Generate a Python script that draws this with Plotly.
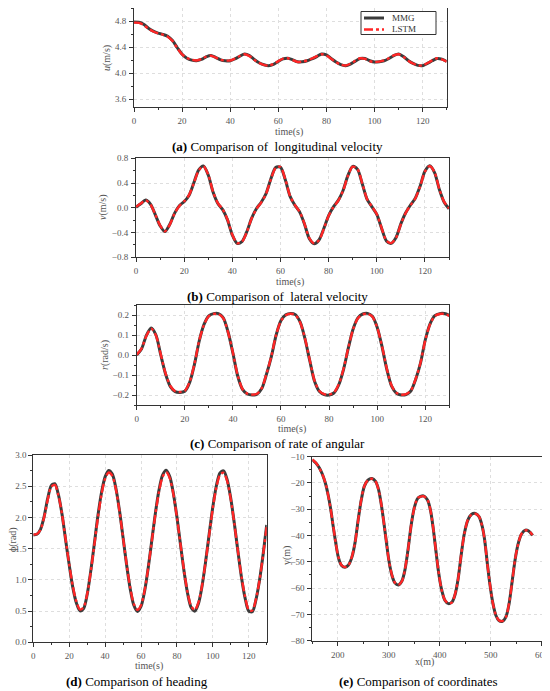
import plotly.graph_objects as go

MMG_COLOR = "#3c3c3c"
LSTM_COLOR = "#ff2626"
TICK_FONT = dict(family="Liberation Serif", size=9, color="#555555")
TITLE_FONT = dict(family="Liberation Serif", size=10, color="#555555")
CAPTION_FONT = dict(family="Liberation Serif", size=13, color="#000000")
PAGE_OFFSET = 8  # the html page puts the figure 8px in from the top-left corner
W, H = 550 - PAGE_OFFSET, 691 - PAGE_OFFSET

# time axis shared by panels (a)-(d), seconds
TIME = list(range(0, 131, 2))

# (a) longitudinal velocity u (m/s)
U_MMG = [4.785, 4.78, 4.75, 4.69, 4.645, 4.615, 4.595, 4.565, 4.50, 4.39,
         4.29, 4.23, 4.20, 4.19, 4.21, 4.25, 4.27, 4.24, 4.205, 4.19,
         4.19, 4.22, 4.26, 4.295, 4.27, 4.21, 4.16, 4.13, 4.115, 4.135,
         4.18, 4.22, 4.23, 4.205, 4.175, 4.175, 4.19, 4.22, 4.255, 4.295,
         4.28, 4.225, 4.17, 4.13, 4.115, 4.14, 4.185, 4.225, 4.225, 4.19,
         4.17, 4.175, 4.19, 4.225, 4.27, 4.295, 4.255, 4.195, 4.15, 4.12,
         4.115, 4.15, 4.19, 4.225, 4.215, 4.18]
U_LSTM = [4.775, 4.772, 4.74, 4.682, 4.64, 4.612, 4.59, 4.56, 4.496, 4.385,
          4.288, 4.232, 4.205, 4.195, 4.215, 4.252, 4.268, 4.238, 4.205, 4.193,
          4.195, 4.225, 4.263, 4.29, 4.262, 4.205, 4.158, 4.128, 4.118, 4.14,
          4.185, 4.223, 4.228, 4.2, 4.172, 4.178, 4.195, 4.225, 4.26, 4.29,
          4.272, 4.22, 4.168, 4.13, 4.118, 4.145, 4.19, 4.228, 4.22, 4.186,
          4.17, 4.178, 4.195, 4.23, 4.272, 4.29, 4.25, 4.192, 4.148, 4.122,
          4.118, 4.155, 4.195, 4.228, 4.21, 4.178]

# (b) lateral velocity v (m/s)
V_MMG = [0.01, 0.065, 0.125, 0.06, -0.11, -0.29, -0.385, -0.27, -0.09, 0.035,
         0.10, 0.20, 0.40, 0.61, 0.675, 0.53, 0.255, 0.07, -0.03, -0.195,
         -0.44, -0.575, -0.545, -0.39, -0.17, -0.015, 0.09, 0.23, 0.465, 0.65,
         0.655, 0.455, 0.185, 0.04, -0.07, -0.265, -0.50, -0.58, -0.52, -0.335,
         -0.125, 0.015, 0.12, 0.28, 0.52, 0.67, 0.62, 0.385, 0.135, 0.015,
         -0.107, -0.33, -0.535, -0.575, -0.48, -0.26, -0.08, 0.045, 0.155, 0.35,
         0.59, 0.68, 0.57, 0.295, 0.09, -0.015]
V_LSTM = [0.015, 0.07, 0.12, 0.055, -0.105, -0.285, -0.38, -0.275, -0.095, 0.03,
          0.105, 0.205, 0.395, 0.60, 0.67, 0.535, 0.26, 0.075, -0.025, -0.19,
          -0.435, -0.57, -0.55, -0.395, -0.175, -0.02, 0.085, 0.225, 0.46, 0.645,
          0.66, 0.46, 0.19, 0.045, -0.065, -0.26, -0.49, -0.575, -0.525, -0.34,
          -0.13, 0.01, 0.115, 0.275, 0.515, 0.665, 0.625, 0.39, 0.14, 0.02,
          -0.10, -0.325, -0.53, -0.57, -0.485, -0.265, -0.085, 0.04, 0.15, 0.345,
          0.585, 0.675, 0.575, 0.30, 0.095, -0.01]

# (c) yaw rate r (rad/s)
R_MMG = [0.0, 0.03, 0.097, 0.135, 0.10, 0.0, -0.095, -0.158, -0.183, -0.187,
         -0.181, -0.138, -0.048, 0.07, 0.153, 0.196, 0.207, 0.207, 0.186, 0.115,
         0.01, -0.105, -0.172, -0.195, -0.2, -0.196, -0.168, -0.095, -0.008, 0.10,
         0.172, 0.201, 0.208, 0.202, 0.164, 0.08, -0.03, -0.133, -0.183, -0.198,
         -0.2, -0.19, -0.15, -0.073, 0.034, 0.13, 0.186, 0.205, 0.208, 0.194,
         0.139, 0.043, -0.071, -0.156, -0.191, -0.2, -0.198, -0.18, -0.122, -0.042,
         0.075, 0.156, 0.197, 0.207, 0.207, 0.198]
R_LSTM = [0.002, 0.032, 0.095, 0.132, 0.098, 0.003, -0.092, -0.155, -0.181, -0.185,
          -0.179, -0.135, -0.046, 0.072, 0.151, 0.194, 0.205, 0.205, 0.184, 0.113,
          0.012, -0.102, -0.17, -0.193, -0.198, -0.194, -0.166, -0.093, -0.006, 0.102,
          0.17, 0.199, 0.206, 0.2, 0.162, 0.082, -0.027, -0.13, -0.18, -0.196,
          -0.198, -0.188, -0.148, -0.07, 0.036, 0.128, 0.184, 0.203, 0.206, 0.192,
          0.137, 0.045, -0.068, -0.153, -0.189, -0.198, -0.196, -0.178, -0.12, -0.04,
          0.073, 0.154, 0.195, 0.205, 0.205, 0.196]

# (d) heading (rad)
PSI_MMG = [1.72, 1.73, 1.81, 2.01, 2.30, 2.51, 2.54, 2.36, 2.05, 1.64,
           1.24, 0.88, 0.63, 0.503, 0.54, 0.765, 1.14, 1.58, 2.03, 2.40,
           2.65, 2.752, 2.694, 2.468, 2.110, 1.676, 1.233, 0.852, 0.593, 0.495,
           0.575, 0.820, 1.191, 1.631, 2.069, 2.438, 2.679, 2.755, 2.653, 2.389,
           2.006, 1.563, 1.130, 0.774, 0.552, 0.499, 0.622, 0.903, 1.297, 1.743,
           2.170, 2.512, 2.714, 2.745, 2.601, 2.303, 1.898, 1.451, 1.031, 0.704,
           0.50, 0.49, 0.679, 0.993, 1.407, 1.88]
PSI_LSTM = [1.725, 1.735, 1.80, 2.00, 2.28, 2.49, 2.52, 2.35, 2.05, 1.65,
            1.25, 0.90, 0.65, 0.525, 0.56, 0.77, 1.13, 1.56, 2.00, 2.37,
            2.62, 2.72, 2.665, 2.45, 2.10, 1.675, 1.245, 0.87, 0.615, 0.52,
            0.595, 0.83, 1.19, 1.62, 2.05, 2.41, 2.65, 2.725, 2.63, 2.375,
            2.0, 1.565, 1.14, 0.79, 0.575, 0.52, 0.64, 0.91, 1.295, 1.73,
            2.15, 2.485, 2.685, 2.715, 2.58, 2.29, 1.895, 1.455, 1.045, 0.725,
            0.52, 0.51, 0.69, 0.995, 1.40, 1.86]

# (e) trajectory x (m) / y (m)
POS_X = [150, 157, 164, 170, 176, 181, 186, 191, 196, 201,
         207, 214, 221, 228, 234, 240, 246, 252, 259, 267,
         274, 280, 285, 290, 295, 300, 306, 312, 319, 326,
         332, 338, 344, 350, 357, 368, 376, 382, 387, 392,
         397, 403, 410, 417, 424, 430, 436, 442, 448, 455,
         462, 470, 477, 483, 488, 493, 498, 504, 510, 516,
         523, 530, 536, 542, 548, 554, 560, 567, 574, 580, 582]
POS_Y_MMG = [-11.2, -12.4, -14.3, -16.8, -20.3, -24.5, -29.8, -36.5, -42.8, -48.2,
             -51.3, -52.1, -51.2, -48.0, -42.5, -34.0, -26.5, -21.3, -18.9, -18.3,
             -19.4, -22.5, -27.8, -34.5, -42.0, -49.2, -55.0, -58.0, -58.8, -57.2,
             -52.8, -45.0, -36.0, -29.5, -25.8, -24.9, -26.5, -30.5, -37.0, -45.0,
             -53.0, -60.0, -64.6, -65.9, -65.3, -62.5, -56.5, -47.5, -39.5, -34.2,
             -32.0, -31.6, -32.8, -36.2, -41.5, -50.0, -58.0, -65.5, -70.3, -72.3,
             -72.6, -70.8, -66.0, -57.5, -49.0, -43.0, -39.6, -38.0, -38.2, -39.4, -40.0]
POS_Y_LSTM = [-11.0, -12.3, -14.4, -16.9, -20.1, -24.6, -29.9, -36.3, -42.9, -48.0,
              -51.2, -52.0, -51.3, -47.8, -42.6, -34.2, -26.4, -21.2, -18.9, -18.4,
              -19.3, -22.6, -27.7, -34.6, -41.8, -49.3, -54.9, -57.9, -58.7, -57.3,
              -52.6, -45.2, -35.9, -29.6, -25.7, -25.0, -26.4, -30.6, -36.8, -45.1,
              -52.8, -60.1, -64.5, -65.8, -65.4, -62.3, -56.6, -47.3, -39.6, -34.1,
              -32.1, -31.7, -32.7, -36.3, -41.4, -50.1, -57.8, -65.6, -70.2, -72.2,
              -72.5, -70.9, -65.8, -57.6, -48.8, -43.1, -39.5, -38.1, -38.1, -39.3, -39.8]


def paper(px, py):
    """Pixel position as seen in the page -> paper coordinates."""
    fx = (px - PAGE_OFFSET) / W
    fy = 1 - (py - PAGE_OFFSET) / H
    return min(max(fx, 0), 1), min(max(fy, 0), 1)


def dom_x(a, b):
    return [paper(a, 8)[0], paper(b, 8)[0]]


def dom_y(top, bottom):
    return [paper(8, bottom)[1], paper(8, top)[1]]


def axis_style(rng, dtick, minor_dtick, domain, anchor, **extra):
    d = dict(
        range=rng,
        dtick=dtick,
        domain=domain,
        anchor=anchor,
        automargin=False,
        showline=True,
        linecolor="#333333",
        linewidth=1,
        mirror=True,
        ticks="outside",
        ticklen=4,
        tickcolor="#333333",
        minor=dict(dtick=minor_dtick, ticks="outside", ticklen=2, tickcolor="#333333", showgrid=False),
        showgrid=True,
        gridcolor="#dedede",
        griddash="dot",
        gridwidth=1,
        zeroline=False,
        tickfont=TICK_FONT,
    )
    d.update(extra)
    return d


fig = go.Figure()

panels = [
    ("x", "y", TIME, U_MMG, U_LSTM),
    ("x2", "y2", TIME, V_MMG, V_LSTM),
    ("x3", "y3", TIME, R_MMG, R_LSTM),
    ("x4", "y4", TIME, PSI_MMG, PSI_LSTM),
    ("x5", "y5", POS_X, POS_Y_MMG, POS_Y_LSTM),
]
for xa, ya, xs, mmg, lstm in panels:
    fig.add_trace(go.Scatter(
        x=xs, y=mmg, xaxis=xa, yaxis=ya, mode="lines", name="MMG",
        line=dict(color=MMG_COLOR, width=3, shape="spline", smoothing=0.8),
        showlegend=False,
    ))
    fig.add_trace(go.Scatter(
        x=xs, y=lstm, xaxis=xa, yaxis=ya, mode="lines", name="LSTM",
        line=dict(color=LSTM_COLOR, width=2.4, dash="dashdot", shape="spline", smoothing=0.8),
        showlegend=False,
    ))

fig.update_layout(
    width=W,
    height=H,
    margin=dict(l=0, r=0, t=0, b=0, autoexpand=False),
    paper_bgcolor="white",
    plot_bgcolor="white",
    showlegend=False,
    xaxis=axis_style([0, 130], 20, 10, dom_x(134, 446.7), "y", ticklabelstandoff=1),
    yaxis=axis_style([3.476, 5.0], 0.4, 0.2, dom_y(8, 107.3), "x", tickformat=".1f", ticklabelstandoff=1),
    xaxis2=axis_style([0, 130], 20, 10, dom_x(136, 449), "y2", ticklabelstandoff=1),
    yaxis2=axis_style([-0.8, 0.8], 0.4, 0.2, dom_y(158.3, 257.3), "x2", tickformat=".1f", ticklabelstandoff=1),
    xaxis3=axis_style([0, 130], 20, 10, dom_x(136.7, 449.3), "y3", ticklabelstandoff=1),
    yaxis3=axis_style([-0.25, 0.25], 0.1, 0.05, dom_y(305, 405), "x3", tickformat=".1f", ticklabelstandoff=1),
    xaxis4=axis_style([0, 130], 20, 10, dom_x(33.3, 266.7), "y4", ticklabelstandoff=1),
    yaxis4=axis_style([0, 3], 0.5, 0.25, dom_y(455, 642.3), "x4", tickformat=".1f", ticklabelstandoff=0),
    xaxis5=axis_style([150, 600], 100, 50, dom_x(312.3, 541.7), "y5", tick0=0, ticklabelstandoff=1),
    yaxis5=axis_style([-80, -10], 10, 5, dom_y(456.7, 640.7), "x5", ticklabelstandoff=1),
)

# axis titles placed where the reference shows them
axis_titles = [
    ("time(s)", 289, 132, 0), ("<i>u</i>(m/s)", 107, 58, -90),
    ("time(s)", 290, 282, 0), ("<i>v</i>(m/s)", 103, 207, -90),
    ("time(s)", 292, 429, 0), ("<i>r</i>(rad/s)", 105, 355, -90),
    ("time(s)", 149, 666, 0), ("ϕ(rad)", 13, 540, -90),
    ("x(m)", 424, 662, 0), ("y(m)", 287, 556, -90),
]
for text, cx, cy, angle in axis_titles:
    fx, fy = paper(cx, cy)
    fig.add_annotation(text=text, x=fx, y=fy, xref="paper", yref="paper", showarrow=False,
                       xanchor="center", yanchor="middle", textangle=angle, font=TITLE_FONT)

# legend box inside panel (a), top right
lx0, ly0 = paper(361, 11.5)
lx1, ly1 = paper(436, 34.5)
fig.add_shape(type="rect", xref="paper", yref="paper", x0=lx0, y0=ly1, x1=lx1, y1=ly0,
              line=dict(color="#333333", width=1), fillcolor="white", layer="above")
legend_rows = [("MMG", MMG_COLOR, "solid", 3, 18), ("LSTM", LSTM_COLOR, "dashdot", 2.4, 29.5)]
for label, color, dash, width, row_y in legend_rows:
    sx0, sy = paper(364, row_y)
    sx1, _ = paper(384, row_y)
    fig.add_shape(type="line", xref="paper", yref="paper", x0=sx0, y0=sy, x1=sx1, y1=sy,
                  line=dict(color=color, width=width, dash=dash), layer="above")
    tx, _ = paper(390, row_y)
    fig.add_annotation(text=label, x=tx, y=sy, xref="paper", yref="paper", showarrow=False,
                       xanchor="left", yanchor="middle",
                       font=dict(family="Liberation Serif", size=9, color="#333333"))

captions = [
    ("<b>(a)</b> Comparison of  longitudinal velocity", 277, 147),
    ("<b>(b)</b> Comparison of  lateral velocity", 277, 297),
    ("<b>(c)</b> Comparison of rate of angular", 277, 443),
    ("<b>(d)</b> Comparison of heading", 137, 681),
    ("<b>(e)</b> Comparison of coordinates", 418, 681),
]
for text, cx, cy in captions:
    fx, fy = paper(cx, cy)
    fig.add_annotation(
        text=text, x=fx, y=fy, xref="paper", yref="paper",
        showarrow=False, xanchor="center", yanchor="middle", font=CAPTION_FONT,
    )

fig.write_html("out.html")
